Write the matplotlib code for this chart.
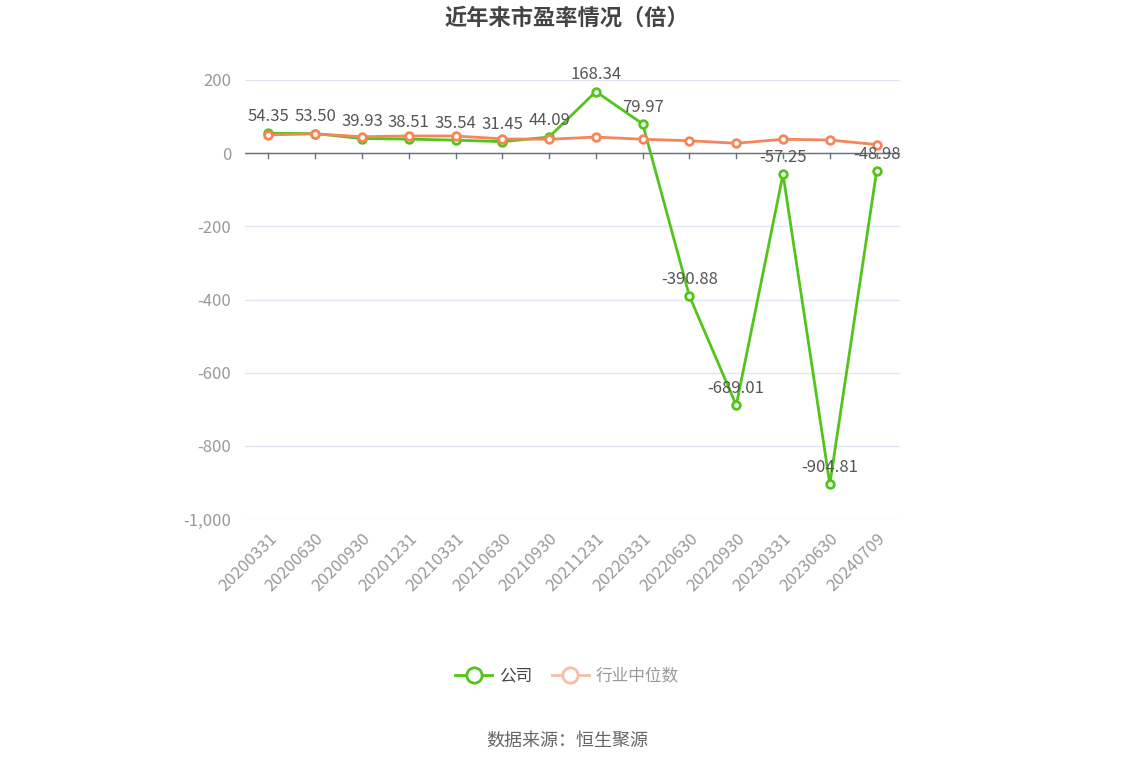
import matplotlib.pyplot as plt
from matplotlib.lines import Line2D
from matplotlib.ticker import FuncFormatter

plt.rcParams['font.family'] = ['Noto Sans CJK SC', 'DejaVu Sans']

dates = ['20200331', '20200630', '20200930', '20201231', '20210331', '20210630', '20210930',
         '20211231', '20220331', '20220630', '20220930', '20230331', '20230630', '20240709']
company = [54.35, 53.50, 39.93, 38.51, 35.54, 31.45, 44.09, 168.34, 79.97,
           -390.88, -689.01, -57.25, -904.81, -48.98]
industry = [50, 52.7, 45, 47, 47, 39, 38, 44, 38, 34, 27, 38, 36, 23.5]

green = '#52c41a'
orange = '#f5855a'

fig = plt.figure(figsize=(11.34, 7.66), dpi=100)
ax = fig.add_axes([245 / 1134, 1 - 519 / 766, 655 / 1134, 439 / 766])

x = list(range(len(dates)))
ax.plot(x, company, color=green, lw=2, marker='o', ms=5.5, mfc='white', mec=green, mew=2, zorder=3)
ax.plot(x, industry, color=orange, lw=2, marker='o', ms=5.5, mfc='white', mec=orange, mew=2, zorder=4)

for i, v in enumerate(company):
    ax.annotate('%.2f' % v, (i, v), xytext=(0, 6), textcoords='offset points',
                ha='center', va='bottom', fontsize=12, color='#555555', zorder=5)

ax.set_xlim(-0.5, len(dates) - 0.5)
ax.set_ylim(-1000, 200)
ax.set_yticks(range(-1000, 201, 200))
ax.yaxis.set_major_formatter(FuncFormatter(lambda v, p: '{:,.0f}'.format(v)))
ax.grid(axis='y', color='#e0e6f1', lw=1)
ax.set_axisbelow(True)
for s in ax.spines.values():
    s.set_visible(False)
ax.axhline(0, color='#6e7079', lw=1, zorder=2)
for i in x:
    ax.plot([i, i], [0, -13], color='#6e7079', lw=1, zorder=2, clip_on=False)

ax.set_xticks(x)
ax.set_xticklabels(dates, rotation=45, ha='right', rotation_mode='anchor')
ax.tick_params(axis='x', length=0, pad=8, labelsize=12, labelcolor='#999999')
ax.tick_params(axis='y', length=0, pad=10, labelsize=12, labelcolor='#999999')

fig.text(0.5, 1 - 18 / 766, '近年来市盈率情况（倍）', ha='center', va='center',
         fontsize=16, fontweight='bold', color='#444444')

handles = [Line2D([], [], color=green, lw=2, marker='o', ms=11, mfc='white', mec=green, mew=2),
           Line2D([], [], color='#f9bda3', lw=2, marker='o', ms=11, mfc='white', mec='#f9bda3', mew=2)]
leg = fig.legend(handles, ['公司', '行业中位数'], loc='center', bbox_to_anchor=(0.5, 1 - 676 / 766),
                 ncol=2, frameon=False, fontsize=12, handlelength=2.2, columnspacing=1.2, handletextpad=0.4)
leg.get_texts()[0].set_color('#444444')
leg.get_texts()[1].set_color('#999999')

fig.text(0.5, 1 - 741 / 766, '数据来源：恒生聚源', ha='center', va='center', fontsize=13, color='#666666')

fig.savefig('out.png', dpi=100)
